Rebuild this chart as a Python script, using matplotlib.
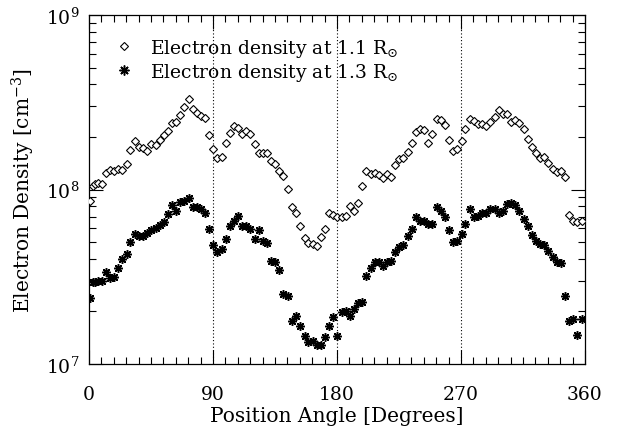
import numpy as np
import matplotlib
matplotlib.use("Agg")
import matplotlib.pyplot as plt
from matplotlib.ticker import FixedLocator, NullFormatter, LogLocator

plt.rcParams['font.family'] = ['DejaVu Serif']
plt.rcParams['mathtext.fontset'] = 'dejavuserif'

# Position angle [degrees]
position_angle = [
    0.7, 2.7, 4.4, 6.5, 9.2, 12.3, 15.2, 18.4, 21.3, 24.2, 27.3, 30.1, 33.2, 36.1, 39.0,
    42.1, 45.2, 48.4, 51.3, 54.2, 57.3, 60.2, 63.1, 66.3, 69.2, 72.4, 75.3, 78.4, 81.3,
    84.2, 87.3, 89.8, 93.1, 96.2, 99.2, 102.3, 105.2, 108.1, 111.3, 114.2, 117.1, 120.3,
    123.2, 126.1, 129.1, 132.1, 135.2, 138.1, 141.0, 144.1, 147.0, 150.2, 153.1, 156.5,
    159.1, 162.3, 165.2, 168.4, 171.3, 174.2, 177.3, 180.1, 183.4, 186.5, 189.4, 192.3,
    195.2, 198.4, 201.3, 204.4, 207.4, 210.3, 213.4, 216.3, 219.4, 222.3, 225.2, 228.1,
    231.3, 234.4, 237.3, 240.2, 243.1, 246.3, 249.2, 252.3, 255.3, 258.4, 261.3, 264.4,
    267.3, 270.4, 273.1, 276.3, 279.4, 282.3, 285.2, 288.4, 291.3, 294.4, 297.3, 300.2,
    303.4, 306.3, 309.4, 312.3, 315.4, 318.3, 321.2, 324.4, 327.3, 330.5, 333.4, 336.5,
    339.4, 342.3, 345.2, 348.4, 351.3, 354.4, 357.6,
]

# log10 of electron density [cm^-3] at 1.1 Rsun
log_ne_11 = [
    7.934, 8.020, 8.030, 8.040, 8.032, 8.097, 8.112, 8.106, 8.116, 8.110, 8.145, 8.226, 8.278,
    8.246, 8.238, 8.221, 8.259, 8.253, 8.282, 8.312, 8.335, 8.379, 8.387, 8.425, 8.472, 8.516,
    8.463, 8.436, 8.421, 8.409, 8.310, 8.234, 8.183, 8.189, 8.269, 8.326, 8.364, 8.354, 8.320,
    8.335, 8.318, 8.263, 8.211, 8.211, 8.211, 8.164, 8.145, 8.106, 8.078, 8.001, 7.900, 7.864,
    7.788, 7.721, 7.696, 7.687, 7.677, 7.725, 7.773, 7.868, 7.854, 7.845, 7.845, 7.849, 7.906,
    7.877, 7.921, 8.020, 8.106, 8.089, 8.093, 8.085, 8.068, 8.087, 8.072, 8.139, 8.173, 8.183,
    8.217, 8.265, 8.329, 8.349, 8.341, 8.265, 8.316, 8.406, 8.396, 8.368, 8.284, 8.219, 8.230,
    8.278, 8.349, 8.406, 8.392, 8.373, 8.373, 8.364, 8.389, 8.417, 8.455, 8.431, 8.435, 8.389,
    8.396, 8.379, 8.345, 8.288, 8.246, 8.211, 8.183, 8.189, 8.154, 8.116, 8.100, 8.106, 8.074,
    7.853, 7.820, 7.811, 7.820,
]

# log10 of electron density [cm^-3] at 1.3 Rsun
log_ne_13 = [
    7.376, 7.471, 7.471, 7.475, 7.475, 7.528, 7.490, 7.496, 7.548, 7.601, 7.628, 7.700, 7.744,
    7.734, 7.734, 7.750, 7.769, 7.782, 7.797, 7.814, 7.858, 7.910, 7.877, 7.929, 7.934, 7.952,
    7.900, 7.902, 7.891, 7.864, 7.776, 7.681, 7.643, 7.658, 7.719, 7.792, 7.818, 7.849, 7.792,
    7.792, 7.776, 7.719, 7.769, 7.706, 7.696, 7.591, 7.586, 7.538, 7.401, 7.391, 7.244, 7.273,
    7.216, 7.158, 7.124, 7.133, 7.109, 7.109, 7.152, 7.216, 7.271, 7.158, 7.299, 7.305, 7.276,
    7.315, 7.349, 7.353, 7.502, 7.553, 7.586, 7.582, 7.563, 7.582, 7.591, 7.643, 7.668, 7.681,
    7.734, 7.776, 7.845, 7.820, 7.820, 7.801, 7.801, 7.897, 7.877, 7.845, 7.769, 7.700, 7.706,
    7.744, 7.801, 7.887, 7.845, 7.849, 7.864, 7.864, 7.887, 7.887, 7.864, 7.877, 7.916, 7.920,
    7.910, 7.874, 7.830, 7.792, 7.738, 7.706, 7.687, 7.681, 7.648, 7.611, 7.586, 7.578, 7.387,
    7.244, 7.258, 7.168, 7.258,
]

x_ticks = [0, 90, 180, 270, 360]
quadrant_lines = [90, 180, 270]
label_11 = r"Electron density at 1.1 R$_{\odot}$"
label_13 = r"Electron density at 1.3 R$_{\odot}$"

pa = np.array(position_angle)
ne11 = 10.0 ** np.array(log_ne_11)
ne13 = 10.0 ** np.array(log_ne_13)

fig = plt.figure(figsize=(6.27, 4.39), dpi=100)
ax = fig.add_axes([89 / 627, 1 - 365 / 439, (585 - 89) / 627, (365 - 16) / 439])

ax.set_yscale('log')
ax.set_xlim(0, 360)
ax.set_ylim(1e7, 1e9)

for q in quadrant_lines:
    ax.axvline(q, color='black', linestyle=(0, (1, 2)), linewidth=0.8, zorder=1)

ax.plot(pa, ne11, linestyle='none', marker='D', markersize=3.9, markerfacecolor='white',
        markeredgecolor='black', markeredgewidth=0.8, label=label_11, zorder=3)
ax.plot(pa, ne13, linestyle='none', marker=(8, 2, 0), markersize=6.2, color='black',
        markeredgewidth=1.1, label=label_13, zorder=3)

ax.set_xticks(x_ticks)
ax.xaxis.set_minor_locator(FixedLocator(np.arange(0, 361, 9)))
ax.yaxis.set_minor_locator(LogLocator(base=10, subs=np.arange(2, 10), numticks=20))
ax.yaxis.set_minor_formatter(NullFormatter())
ax.set_yticks([1e7, 1e8, 1e9])
ax.set_yticklabels([r"10$^{7}$", r"10$^{8}$", r"10$^{9}$"])

ax.tick_params(which='both', direction='in', top=True, right=True, labelsize=13.5,
               width=0.8, colors='black')
ax.tick_params(which='major', length=10)
ax.tick_params(axis='x', which='major', pad=15)
ax.tick_params(axis='y', which='major', pad=7)
ax.tick_params(which='minor', length=5)
for s in ax.spines.values():
    s.set_linewidth(0.9)

ax.set_xlabel("Position Angle [Degrees]", fontsize=14.5, labelpad=2)
ax.set_ylabel(r"Electron Density [cm$^{-3}$]", fontsize=14.5, labelpad=6)

leg = ax.legend(loc='upper left', bbox_to_anchor=(0.025, 0.975), frameon=False, fontsize=13.5,
                handlelength=1.0, handletextpad=0.9, borderaxespad=0.3, labelspacing=0.1,
                borderpad=0.4, markerscale=1.15)

fig.savefig("out.png", dpi=100)
